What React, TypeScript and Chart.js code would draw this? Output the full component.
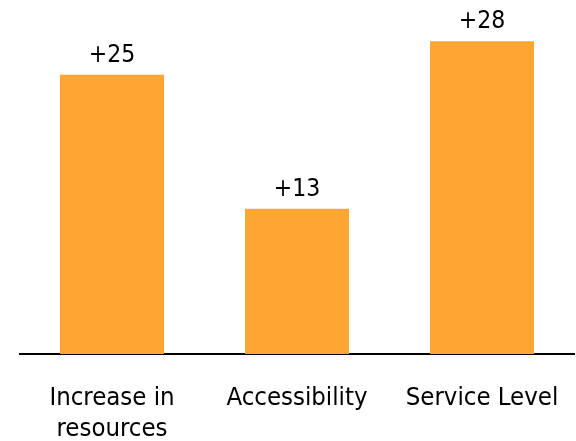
import React, { useEffect, useRef } from "react";
import { Chart, registerables } from "chart.js";

Chart.register(...registerables);

const categories: string[][] = [["Increase in", "resources"], ["Accessibility"], ["Service Level"]];
const values: number[] = [25, 13, 28];
const valueLabels: string[] = ["+25", "+13", "+28"];

const FONT = "'DejaVu Sans Condensed', 'DejaVu Sans', sans-serif";

const valueLabelPlugin = {
  id: "valueLabels",
  afterDatasetsDraw(chart: any) {
    const ctx = chart.ctx;
    const meta = chart.getDatasetMeta(0);
    ctx.save();
    ctx.font = `24.5px ${FONT}`;
    ctx.fillStyle = "#000000";
    ctx.textAlign = "center";
    ctx.textBaseline = "alphabetic";
    meta.data.forEach((bar: any, i: number) => {
      ctx.fillText(valueLabels[i], bar.x, bar.y - 13);
    });
    ctx.restore();
  },
};

export default function App() {
  const ref = useRef<HTMLCanvasElement>(null);
  useEffect(() => {
    if (!ref.current) return;
    const chart = new Chart(ref.current, {
      type: "bar",
      data: {
        labels: categories,
        datasets: [
          {
            data: values,
            backgroundColor: "#FFA533",
            borderWidth: 0,
            barPercentage: 0.562,
            categoryPercentage: 1,
          },
        ],
      },
      options: {
        animation: false,
        responsive: false,
        maintainAspectRatio: false,
        layout: { padding: { top: 19, left: 19.5, right: 1.5, bottom: 0 } },
        plugins: { legend: { display: false }, tooltip: { enabled: false } },
        scales: {
          y: { display: false, min: 0, max: 30 },
          x: {
            grid: { display: false, drawTicks: false },
            border: { display: true, color: "#000000", width: 2 },
            ticks: {
              color: "#000000",
              padding: 28,
              font: { family: FONT, size: 25.5, lineHeight: 1.25 },
              maxRotation: 0,
              autoSkip: false,
            },
            afterFit(scale: any) {
              scale.height = 87;
              scale.paddingLeft = 0;
              scale.paddingRight = 0;
            },
          },
        },
      },
      plugins: [valueLabelPlugin],
    });
    return () => chart.destroy();
  }, []);
  return (
    <div style={{ position: "absolute", left: 0, top: 0, width: 576, height: 441, background: "#fff" }}>
      <canvas ref={ref} width={576} height={441} style={{ display: "block" }} />
    </div>
  );
}
